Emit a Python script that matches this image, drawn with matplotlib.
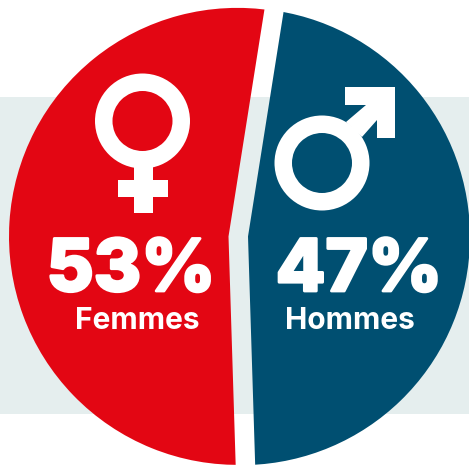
import matplotlib
matplotlib.use('Agg')
import matplotlib.pyplot as plt
import matplotlib.patheffects as pe
from matplotlib.patches import Annulus, Polygon, Rectangle
import numpy as np

# Data
labels = ['Femmes', 'Hommes']
values = [53, 47]
value_labels = ['53%', '47%']

# Colours
red = '#e30613'
blue = '#004f71'
band = '#e5eeee'

W, H = 469, 468
plt.rcParams['font.family'] = ['Inter', 'Liberation Sans', 'DejaVu Sans']


def fy(y):
    # picture rows run downwards, the axes run upwards
    return H - y


fig = plt.figure(figsize=(W / 100, H / 100), dpi=100, facecolor='white')
ax = fig.add_axes([0, 0, 1, 1])

# Pale band behind the pie
ax.add_patch(Rectangle((0, fy(414)), W, 317, facecolor=band, edgecolor='none', zorder=0))

# Pie, each slice pushed out a little (explode is in data units here)
radius = 228.5
wedges, _ = ax.pie(values, colors=[red, blue], startangle=81, radius=radius,
                   center=(239.5, fy(236.5)), explode=[2, 2],
                   frame=True, wedgeprops={'linewidth': 0, 'zorder': 1})
ax.set_xlim(0, W)
ax.set_ylim(0, H)
ax.set_aspect('auto')
ax.axis('off')


# The gap between slices is see-through: trim each slice to its own apex
def trim(wedge, apex_x):
    t = np.radians(np.linspace(wedge.theta1, wedge.theta2, 60))
    apex = (apex_x, fy(236.5))
    pts = np.column_stack([apex[0] + 1000 * np.cos(t), apex[1] + 1000 * np.sin(t)])
    clip = Polygon(np.vstack([apex, pts]), closed=True, transform=ax.transData)
    wedge.set_clip_on(True)  # pie turns clipping off
    wedge.set_clip_path(clip)


trim(wedges[0], 228.5)
trim(wedges[1], 248)

# Female symbol
ax.add_patch(Annulus((142.5, fy(121)), 47.5, 17.5, facecolor='white', edgecolor='none', zorder=3))
ax.add_patch(Rectangle((133.5, fy(213)), 19, 50, facecolor='white', edgecolor='none', zorder=3))
ax.add_patch(Rectangle((118, fy(197)), 50, 17, facecolor='white', edgecolor='none', zorder=3))

# Male symbol
ax.add_patch(Annulus((322, fy(163)), 47.5, 17.5, facecolor='white', edgecolor='none', zorder=3))
arrow = [(346, 122), (366, 105), (345, 105), (345, 87), (395, 87), (395, 138),
         (377, 138), (377, 120), (362, 137)]
ax.add_patch(Polygon([(x, fy(y)) for x, y in arrow], closed=True, facecolor='white',
                     edgecolor='none', zorder=3))

# Text
stroke = [pe.withStroke(linewidth=2, foreground='white')]
for x, value_label in zip([131, 359], value_labels):
    ax.text(x, fy(291), value_label, color='white', fontsize=52, fontweight=800,
            ha='center', va='baseline', zorder=4, path_effects=stroke)
for x, label in zip([137, 349.5], labels):
    ax.text(x, fy(329), label, color='white', fontsize=21.5, fontweight='bold',
            ha='center', va='baseline', zorder=4)

fig.savefig('out.png', dpi=100, facecolor='white')
